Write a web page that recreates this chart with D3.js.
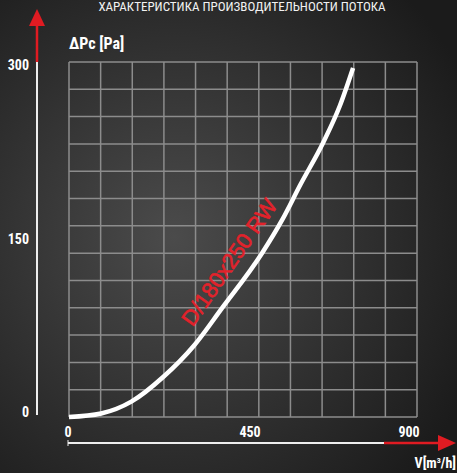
<!DOCTYPE html>
<html><head><meta charset="utf-8">
<script src="https://cdn.jsdelivr.net/npm/d3@7"></script>
<style>
html,body{margin:0;padding:0;background:#222;}
svg{display:block;}
</style></head>
<body>
<script>
// ---- data ----
const titleText = "ХАРАКТЕРИСТИКА ПРОИЗВОДИТЕЛЬНОСТИ ПОТОКА";
const yTitle = "ΔPc [Pa]";
const seriesName = "D/180x250 RW";
const xTicks = [0, 450, 900];
const yTicks = [0, 150, 300];
const flow = [0, 85, 165, 250, 330, 405, 510, 565, 612, 673, 717, 752];      // V [m3/h]
const pressure = [0, 3, 13, 34, 60, 92, 138, 167, 196, 232, 263, 295];       // ΔPc [Pa]
const gridCols = 11, gridRows = 13;

const W = 457, H = 473;
const svg = d3.select("body").append("svg").attr("width", W).attr("height", H);
const defs = svg.append("defs");
const rg = defs.append("radialGradient").attr("id","bg").attr("cx","38%").attr("cy","50%").attr("r","72%");
rg.append("stop").attr("offset","0%").attr("stop-color","#4b4b4b");
rg.append("stop").attr("offset","100%").attr("stop-color","#1b1b1b");
svg.append("rect").attr("width",W).attr("height",H).attr("fill","url(#bg)");

const box = {x0:69, x1:417, y0:62, y1:417};
const x = d3.scaleLinear().domain([0,900]).range([69,409]);
const xLab = d3.scaleLinear().domain([0,450,900]).range([68,250,409]);
const y = d3.scaleLinear().domain([0,300]).range([417,62]);
const yLab = d3.scaleLinear().domain([0,150,300]).range([413,240,66]);

const font = "'Roboto Condensed','Liberation Sans Narrow','Open Sans',Roboto,sans-serif";

// grid
const g = svg.append("g").attr("stroke","#8c8c8c").attr("stroke-width",1.5);
d3.range(gridCols+1).forEach(i=>{
  const px = box.x0 + i*(box.x1-box.x0)/gridCols;
  g.append("line").attr("x1",px).attr("x2",px).attr("y1",box.y0).attr("y2",box.y1);
});
d3.range(gridRows+1).forEach(j=>{
  const py = box.y0 + j*(box.y1-box.y0)/gridRows;
  g.append("line").attr("x1",box.x0).attr("x2",box.x1).attr("y1",py).attr("y2",py);
});

// curve
const pts = flow.map((v,i)=>[x(v), y(pressure[i])]);
svg.append("path").attr("d", d3.line().curve(d3.curveMonotoneX)(pts))
  .attr("fill","none").attr("stroke","#fff").attr("stroke-width",4.5).attr("stroke-linecap","butt");

// series label
const lx = x(428), ly = y(130);
svg.append("text").attr("x",lx).attr("y",ly)
  .attr("transform",`rotate(-55 ${lx} ${ly})`)
  .attr("text-anchor","middle").attr("dominant-baseline","middle")
  .attr("fill","#e3222b").attr("stroke","#e3222b").attr("stroke-width",0.6)
  .attr("font-family","'Liberation Sans',Arial,sans-serif")
  .attr("font-size",22).text(seriesName);

// y axis
svg.append("line").attr("x1",37).attr("x2",37).attr("y1",62).attr("y2",415).attr("stroke","#eee").attr("stroke-width",2);
svg.append("line").attr("x1",37).attr("x2",37).attr("y1",24).attr("y2",62).attr("stroke","#e01b22").attr("stroke-width",2.5);
svg.append("path").attr("d","M29,26 L37,9 L45,26 Z").attr("fill","#e01b22");

// x axis
svg.append("line").attr("x1",68).attr("x2",384).attr("y1",443).attr("y2",443).attr("stroke","#eee").attr("stroke-width",2);
svg.append("line").attr("x1",68).attr("x2",68).attr("y1",440).attr("y2",446).attr("stroke","#eee").attr("stroke-width",1);
svg.append("line").attr("x1",384).attr("x2",440).attr("y1",443).attr("y2",443).attr("stroke","#e01b22").attr("stroke-width",2.5);
svg.append("path").attr("d","M438,435 L456,443 L438,451 Z").attr("fill","#e01b22");

// tick labels
svg.selectAll("text.yt").data(yTicks).enter().append("text").attr("class","yt")
  .attr("x",29).attr("y",d=>yLab(d)).attr("text-anchor","end").attr("dominant-baseline","middle")
  .attr("fill","#fff").attr("font-family",font).attr("font-weight","bold").attr("font-size",14).text(d=>d);
svg.selectAll("text.xt").data(xTicks).enter().append("text").attr("class","xt")
  .attr("x",d=>xLab(d)).attr("y",433).attr("text-anchor","middle").attr("dominant-baseline","middle")
  .attr("fill","#fff").attr("font-family",font).attr("font-weight","bold").attr("font-size",14).text(d=>d);

// titles
svg.append("text").attr("x",242).attr("y",8).attr("text-anchor","middle").attr("dominant-baseline","middle")
  .attr("fill","#f2f2f2").attr("font-family",font).attr("font-size",13).text(titleText);
svg.append("text").attr("x",69).attr("y",45).attr("dominant-baseline","middle")
  .attr("fill","#fff").attr("font-family",font).attr("font-weight","bold").attr("font-size",16).text(yTitle);
const vt = svg.append("text").attr("x",456).attr("y",468).attr("text-anchor","end")
  .attr("fill","#fff").attr("font-family",font).attr("font-weight","bold").attr("font-size",14);
vt.append("tspan").text("V[m");
vt.append("tspan").attr("dy",-5).attr("font-size",8).text("3");
vt.append("tspan").attr("dy",5).text("/h]");
</script>
</body></html>
